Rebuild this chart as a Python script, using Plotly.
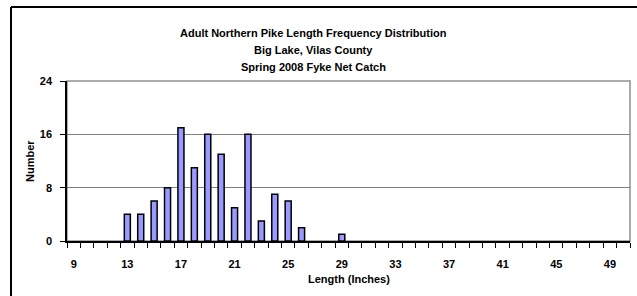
import plotly.graph_objects as go

lengths = [9, 10, 11, 12, 13, 14, 15, 16, 17, 18, 19, 20, 21, 22, 23, 24, 25, 26, 27, 28, 29,
           30, 31, 32, 33, 34, 35, 36, 37, 38, 39, 40, 41, 42, 43, 44, 45, 46, 47, 48, 49, 50]
counts = [0, 0, 0, 0, 4, 4, 6, 8, 17, 11, 16, 13, 5, 16, 3, 7, 6, 2, 0, 0, 1,
          0, 0, 0, 0, 0, 0, 0, 0, 0, 0, 0, 0, 0, 0, 0, 0, 0, 0, 0, 0, 0]
x_tick_labels = [9, 13, 17, 21, 25, 29, 33, 37, 41, 45, 49]
y_tick_labels = [0, 8, 16, 24]

title_lines = ["Adult Northern Pike Length Frequency Distribution",
               "Big Lake, Vilas County",
               "Spring 2008 Fyke Net Catch"]

W, H = 637, 296
L, R, T, B = 67, 7, 81, 55
pw = W - L - R
ph = H - T - B

def px_x(p):
    return (p - L) / pw

def px_y(p):
    return (H - B - p) / ph

font = dict(family="Liberation Sans, Arial, sans-serif", size=11, color="black")

# zero-count classes are drawn as no bar at all
plot_counts = [c if c > 0 else None for c in counts]

fig = go.Figure()
fig.add_trace(go.Bar(
    x=lengths, y=plot_counts,
    marker=dict(color="#9999FF", line=dict(color="black", width=1.5)),
    hoverinfo="x+y",
))

fig.update_layout(
    width=W, height=H,
    margin=dict(l=L, r=R, t=T, b=B, autoexpand=False),
    paper_bgcolor="white", plot_bgcolor="white",
    bargap=0.55,
    showlegend=False,
    font=font,
    xaxis=dict(
        range=[8.5, 50.5], tickmode="array", tickvals=x_tick_labels,
        ticktext=["<b>%d</b>" % v for v in x_tick_labels],
        ticks="", showgrid=False, zeroline=False, automargin=False,
        showline=True, linecolor="black", linewidth=1.5,
        ticklabelstandoff=12,
        minor=dict(tickmode="linear", tick0=8.5, dtick=1, ticks="outside",
                   ticklen=5, tickcolor="black", tickwidth=1, showgrid=False),
        tickfont=font,
    ),
    yaxis=dict(
        range=[0, 24], tickmode="array", tickvals=y_tick_labels,
        ticktext=["<b>%d</b>" % v for v in y_tick_labels],
        ticks="outside", ticklen=5, tickcolor="black", automargin=False,
        showgrid=True, gridcolor="#808080", gridwidth=1,
        zeroline=False, showline=True, linecolor="black", linewidth=1.5,
        ticklabelstandoff=6,
        tickfont=font,
    ),
    shapes=[
        dict(type="rect", xref="paper", yref="paper", x0=0, y0=0, x1=1, y1=1,
             line=dict(color="#909090", width=1.5), layer="below"),
        dict(type="line", xref="paper", yref="paper",
             x0=px_x(11), y0=px_y(7), x1=px_x(637), y1=px_y(7),
             line=dict(color="black", width=2), layer="below"),
        dict(type="line", xref="paper", yref="paper",
             x0=px_x(11), y0=px_y(7), x1=px_x(11), y1=px_y(296),
             line=dict(color="black", width=2), layer="below"),
    ],
    annotations=[
        dict(text="<b>" + t + "</b>", xref="paper", yref="paper",
             x=px_x(313), y=px_y(yy), showarrow=False, font=font,
             xanchor="center", yanchor="middle")
        for t, yy in zip(title_lines, [33, 50, 67])
    ] + [
        dict(text="<b>Length (Inches)</b>", xref="paper", yref="paper",
             x=0.5, y=px_y(279), showarrow=False, font=font,
             xanchor="center", yanchor="middle"),
        dict(text="<b>Number</b>", xref="paper", yref="paper",
             x=px_x(30), y=0.5, showarrow=False, font=font, textangle=-90,
             xanchor="center", yanchor="middle"),
    ],
)

fig.write_html("out.html", config={"displayModeBar": False},
               post_script="document.body.style.margin='0';document.body.style.overflow='hidden';")
